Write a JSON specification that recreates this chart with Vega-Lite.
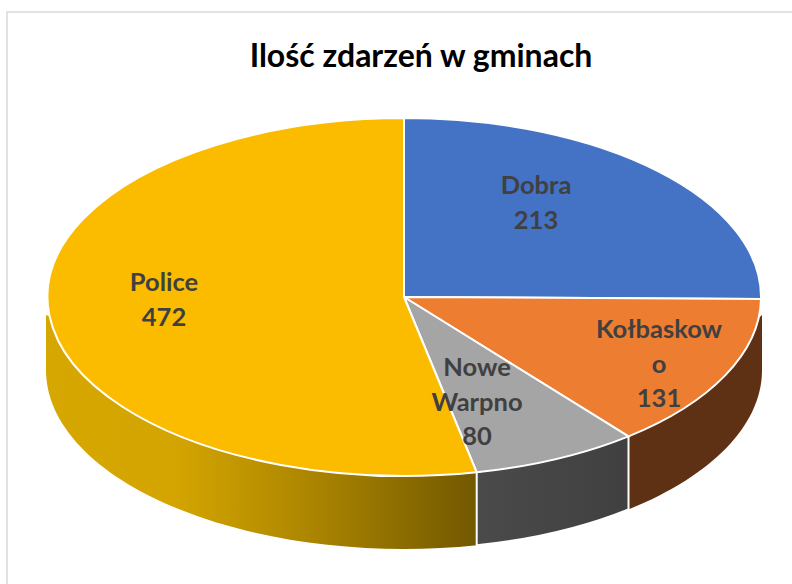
{
  "$schema": "https://vega.github.io/schema/vega-lite/v6.json",
  "width": 794,
  "height": 574,
  "autosize": "none",
  "padding": {"left": 7, "top": 12, "right": -9, "bottom": -2},
  "background": "white",
  "view": {"stroke": "#d9d9d9", "strokeWidth": 1.5},
  "title": {"text": "Ilość zdarzeń w gminach", "font": "Lato", "fontWeight": "bold", "fontSize": 32, "color": "#000000", "anchor": "middle", "offset": 0, "dx": 17, "dy": 62},
  "data": {"values": [
    {"gmina": "Dobra", "label": "Dobra\n213", "zdarzenia": 213},
    {"gmina": "Kołbaskowo", "label": "Kołbaskow\no\n131", "zdarzenia": 131},
    {"gmina": "Nowe Warpno", "label": "Nowe\nWarpno\n80", "zdarzenia": 80},
    {"gmina": "Police", "label": "Police\n472", "zdarzenia": 472}
  ]},
  "layer": [
    {"transform": [{"filter": "datum.gmina === 'Police'"}],
     "mark": {"type": "point", "filled": true, "opacity": 1, "size": 4, "yOffset": -2, "stroke": null,
       "shape": "M-358 18L-358 73A358 179 0 0 0 72.7 248.3L72.7 175.3Z",
       "fill": {"gradient": "linear", "x1": 0, "y1": 0, "x2": 1, "y2": 0, "stops": [
         {"offset": 0, "color": "#d6a700"}, {"offset": 0.3, "color": "#d4a500"}, {"offset": 0.6, "color": "#ae8700"}, {"offset": 1, "color": "#725800"}]}}},
    {"transform": [{"filter": "datum.gmina === 'Nowe Warpno'"}],
     "mark": {"type": "point", "filled": true, "opacity": 1, "size": 4, "yOffset": -2, "stroke": "#ffffff", "strokeWidth": 2,
       "shape": "M72.7 175.3L72.7 248.3A358 179 0 0 0 224.5 212.4L224.5 139.4Z",
       "fill": {"gradient": "linear", "x1": 0, "y1": 0, "x2": 1, "y2": 0, "stops": [
         {"offset": 0, "color": "#4a4a4a"}, {"offset": 1, "color": "#404040"}]}}},
    {"transform": [{"filter": "datum.gmina === 'Kołbaskowo'"}],
     "mark": {"type": "point", "filled": true, "opacity": 1, "size": 4, "yOffset": -2, "stroke": null,
       "shape": "M225.5 139.4L225.5 212A358 179 0 0 0 358 75L358 18Z",
       "fill": "#5f3114"}},
    {"mark": {"type": "point", "filled": true, "opacity": 1, "size": 4, "yOffset": -2, "stroke": "#ffffff", "strokeWidth": 2},
     "encoding": {
       "shape": {"field": "gmina", "type": "nominal", "legend": null, "scale": {
         "domain": ["Dobra", "Kołbaskowo", "Nowe Warpno", "Police"],
         "range": [
           "M0 0L0 -179A357 179 0 0 1 357 2Z",
           "M0 0L357 2A357 179 0 0 1 224.5 139.4Z",
           "M0 0L224.5 139.4A357 179 0 0 1 72.7 175.3Z",
           "M0 0L72.7 175.3A357 179 0 1 1 0 -179Z"]}},
       "color": {"field": "gmina", "type": "nominal", "legend": null, "scale": {
         "domain": ["Dobra", "Kołbaskowo", "Nowe Warpno", "Police"],
         "range": ["#4472c4", "#ed7d31", "#a5a5a5", "#fbbc00"]}}
     }},
    {"transform": [{"filter": "datum.gmina === 'Dobra'"}],
     "mark": {"type": "text", "font": "Lato", "fontWeight": "bold", "fontSize": 25.5, "color": "#404040", "lineBreak": "\n", "lineHeight": 34.5, "baseline": "middle", "dx": 132, "dy": -113},
     "encoding": {"text": {"field": "label"}}},
    {"transform": [{"filter": "datum.gmina === 'Kołbaskowo'"}],
     "mark": {"type": "text", "font": "Lato", "fontWeight": "bold", "fontSize": 25.5, "color": "#404040", "lineBreak": "\n", "lineHeight": 34.5, "baseline": "middle", "dx": 255, "dy": 31},
     "encoding": {"text": {"field": "label"}}},
    {"transform": [{"filter": "datum.gmina === 'Nowe Warpno'"}],
     "mark": {"type": "text", "font": "Lato", "fontWeight": "bold", "fontSize": 25.5, "color": "#404040", "lineBreak": "\n", "lineHeight": 34.5, "baseline": "middle", "dx": 73, "dy": 69},
     "encoding": {"text": {"field": "label"}}},
    {"transform": [{"filter": "datum.gmina === 'Police'"}],
     "mark": {"type": "text", "font": "Lato", "fontWeight": "bold", "fontSize": 25.5, "color": "#404040", "lineBreak": "\n", "lineHeight": 34.5, "baseline": "middle", "dx": -240, "dy": -16},
     "encoding": {"text": {"field": "label"}}}
  ]
}
